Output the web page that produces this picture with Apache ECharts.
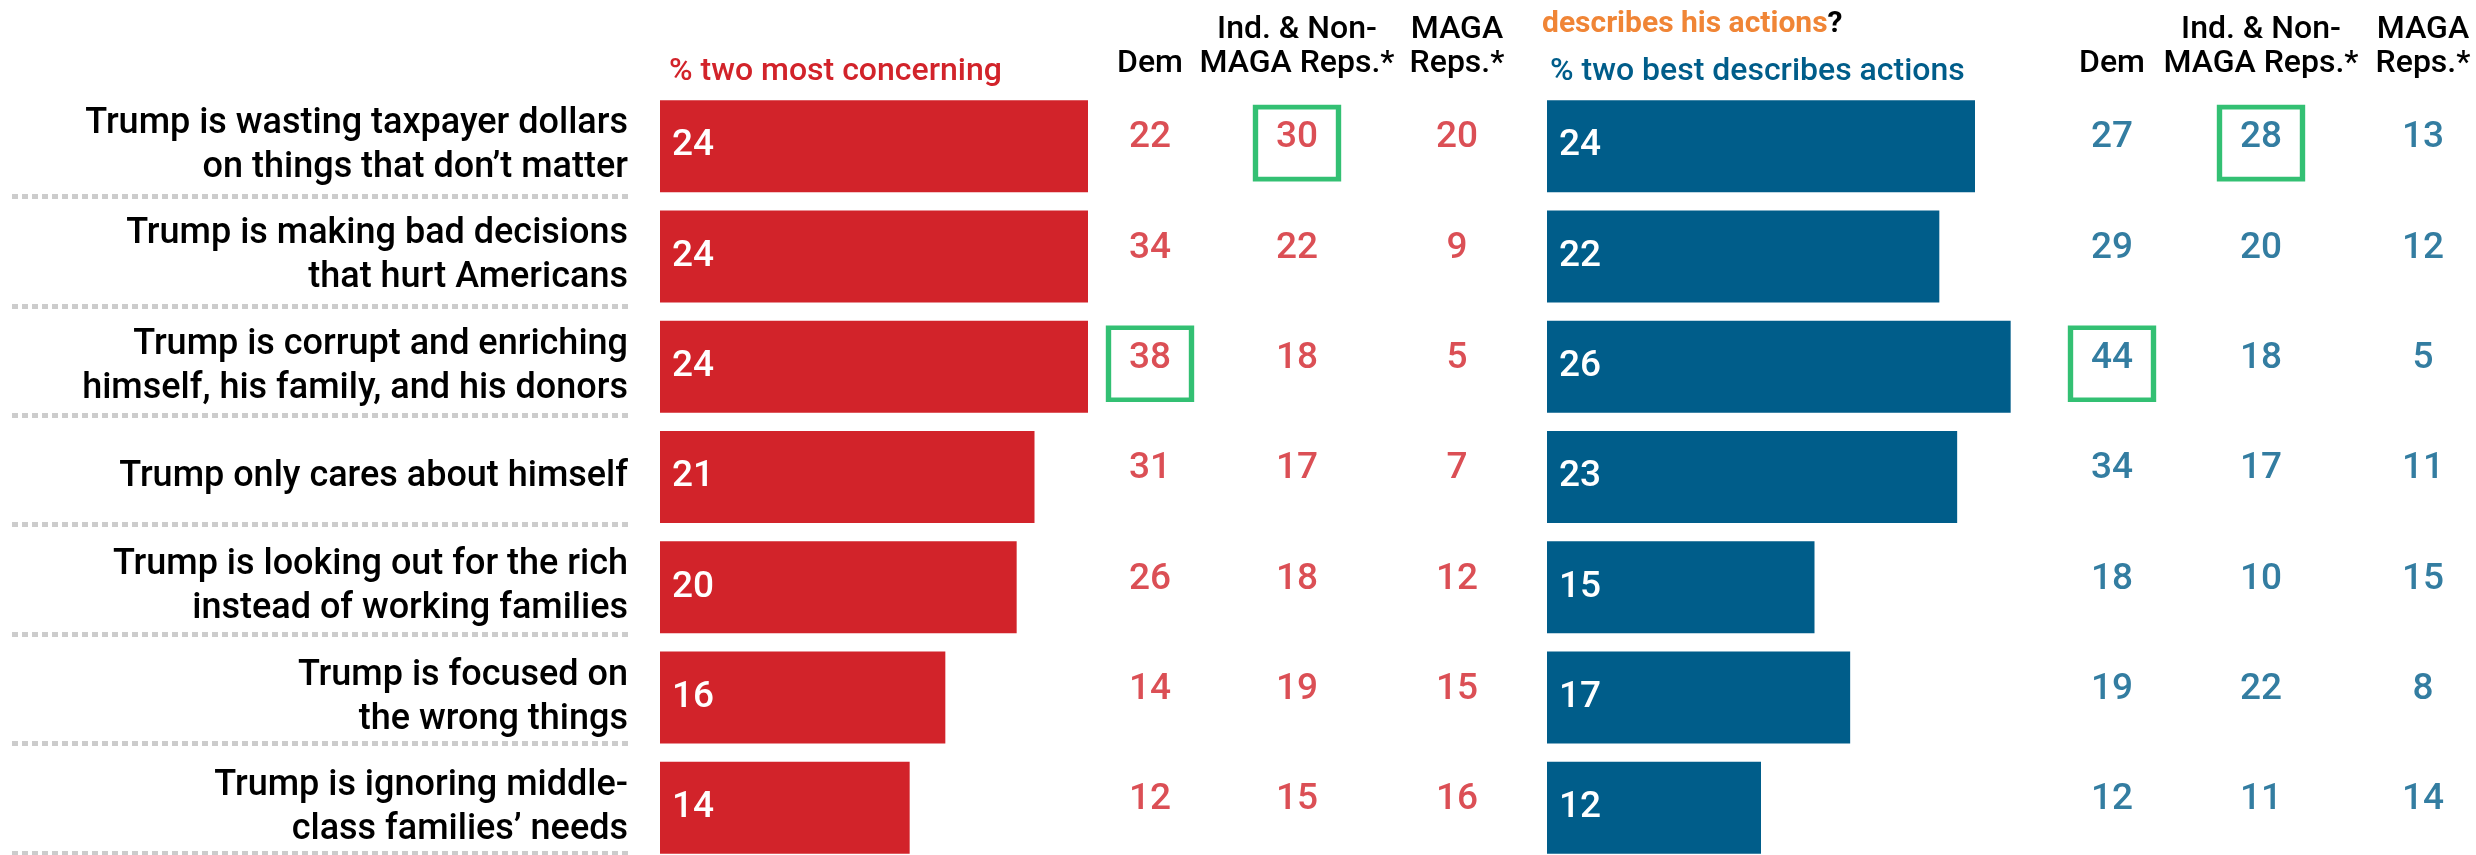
<!DOCTYPE html>
<html>
<head>
<meta charset="utf-8">
<title>Trump concerns</title>
<script src="https://cdn.jsdelivr.net/npm/echarts@6/dist/echarts.min.js"></script>
<style>
  html, body { margin: 0; padding: 0; background: #fff; }
  #chart { width: 2476px; height: 855px; }
</style>
</head>
<body>
<div id="chart"></div>
<script>
// statements, top to bottom
const categories = [
  'Trump is wasting taxpayer dollars\non things that don\u2019t matter',
  'Trump is making bad decisions\nthat hurt Americans',
  'Trump is corrupt and enriching\nhimself, his family, and his donors',
  'Trump only cares about himself',
  'Trump is looking out for the rich\ninstead of working families',
  'Trump is focused on\nthe wrong things',
  'Trump is ignoring middle-\nclass families\u2019 needs'
]

// % two most concerning
const concernTotal = [24, 24, 24, 21, 20, 16, 14]
const concernDem = [22, 34, 38, 31, 26, 14, 12]
const concernInd = [30, 22, 18, 17, 18, 19, 15]
const concernMaga = [20, 9, 5, 7, 12, 15, 16]

// % two best describes actions
const actionsTotal = [24, 22, 26, 23, 15, 17, 12]
const actionsDem = [27, 29, 44, 34, 18, 19, 12]
const actionsInd = [28, 20, 18, 17, 10, 22, 11]
const actionsMaga = [13, 12, 5, 11, 15, 8, 14]

// rows with a green box
const concernDemBox = [2]
const concernIndBox = [0]
const actionsDemBox = [2]
const actionsIndBox = [0]

const headers = ['Dem', 'Ind. & Non-\nMAGA Reps.*', 'MAGA\nReps.*']

const RED = '#d2232a'
const BLUE = '#005d8a'
const GREEN = '#00b050'
const ORANGE = '#f08536'
const FONT = 'Roboto, "Liberation Sans", sans-serif'

const GRID_TOP = 91
const GRID_HEIGHT = 772
const AXIS_MAX = 30
const BAR_AXIS_WIDTH = 535 // 17.83 px per point

const chart = echarts.init(document.getElementById('chart'))

const columns = [
  { header: headers[0], values: concernDem, boxes: concernDemBox, color: RED, center: 1150 },
  { header: headers[1], values: concernInd, boxes: concernIndBox, color: RED, center: 1297 },
  { header: headers[2], values: concernMaga, boxes: [], color: RED, center: 1457 },
  { header: headers[0], values: actionsDem, boxes: actionsDemBox, color: BLUE, center: 2112 },
  { header: headers[1], values: actionsInd, boxes: actionsIndBox, color: BLUE, center: 2261 },
  { header: headers[2], values: actionsMaga, boxes: [], color: BLUE, center: 2423 }
]

function makeGrid(left, width, top, height) {
  // grids run past the bottom edge like the original, so no outer bounds
  return { left: left, width: width, top: top, height: height || GRID_HEIGHT, containLabel: false, outerBoundsMode: 'none' }
}

function hiddenCategoryY(gridIndex) {
  return {
    type: 'category',
    gridIndex: gridIndex,
    inverse: true,
    data: categories,
    show: false
  }
}

function barSeries(axisIndex, values, color) {
  return {
    type: 'bar',
    xAxisIndex: axisIndex,
    yAxisIndex: axisIndex,
    data: values,
    barWidth: 92,
    itemStyle: { color: color },
    label: {
      show: true,
      position: 'insideLeft',
      distance: 12,
      color: '#fff',
      fontFamily: FONT,
      fontSize: 37,
      fontWeight: 500
    },
    silent: true
  }
}

const grid = [
  // separator lines under the statements
  makeGrid(12, 617, 87, 766),
  makeGrid(660, BAR_AXIS_WIDTH, GRID_TOP),
  makeGrid(1547, BAR_AXIS_WIDTH, GRID_TOP)
]
const xAxis = [
  { type: 'value', gridIndex: 0, show: false },
  { type: 'value', gridIndex: 1, min: 0, max: AXIS_MAX, show: false },
  { type: 'value', gridIndex: 2, min: 0, max: AXIS_MAX, show: false }
]
const yAxis = [
  {
    type: 'category',
    gridIndex: 0,
    inverse: true,
    data: categories,
    axisLine: { show: false },
    axisTick: { show: false },
    axisLabel: { show: false },
    splitLine: {
      show: true,
      interval: 0,
      showMinLine: false,
      lineStyle: { color: '#cccccc', width: 5, type: [6, 4] }
    }
  },
  {
    type: 'category',
    gridIndex: 1,
    inverse: true,
    data: categories,
    axisLine: { show: false },
    axisTick: { show: false },
    axisLabel: {
      margin: 32,
      interval: 0,
      color: '#000',
      fontFamily: FONT,
      fontSize: 36,
      fontWeight: 500,
      lineHeight: 44,
      align: 'right'
    }
  },
  hiddenCategoryY(2)
]
const series = [barSeries(1, concernTotal, RED), barSeries(2, actionsTotal, BLUE)]

columns.forEach(function (col) {
  const gi = grid.length
  grid.push(makeGrid(col.center - 40, 80, GRID_TOP))
  xAxis.push({
    type: 'category',
    gridIndex: gi,
    position: 'top',
    data: [col.header],
    axisLine: { show: false },
    axisTick: { show: false },
    axisLabel: {
      margin: 10,
      interval: 0,
      color: '#000',
      fontFamily: FONT,
      fontSize: 32,
      fontWeight: 500,
      lineHeight: 34,
      verticalAlign: 'bottom'
    }
  })
  yAxis.push(hiddenCategoryY(gi))
  series.push({
    type: 'scatter',
    xAxisIndex: gi,
    yAxisIndex: gi,
    silent: true,
    data: col.values.map(function (v, i) {
      const boxed = col.boxes.indexOf(i) >= 0
      return {
        value: [col.header, i, v],
        symbol: 'rect',
        symbolSize: boxed ? [83, 72] : 0,
        symbolOffset: [0, -3],
        itemStyle: { color: 'rgba(0,0,0,0)', borderColor: GREEN, borderWidth: 5 }
      }
    }),
    label: {
      show: true,
      position: 'inside',
      offset: [0, -5],
      formatter: function (p) { return p.value[2] },
      color: col.color,
      fontFamily: FONT,
      fontSize: 37,
      fontWeight: 500
    }
  })
})

chart.setOption({
  animation: false,
  title: [
    {
      text: '% two most concerning',
      left: 664,
      top: 51,
      textStyle: { color: RED, fontFamily: FONT, fontSize: 32, fontWeight: 500 }
    },
    {
      text: '{o|describes his actions}{q|?}',
      left: 1537,
      top: 4,
      textStyle: {
        rich: {
          o: { color: ORANGE, fontFamily: FONT, fontSize: 30, fontWeight: 'bold' },
          q: { color: '#000', fontFamily: FONT, fontSize: 30, fontWeight: 'bold' }
        }
      }
    },
    {
      text: '% two best describes actions',
      left: 1545,
      top: 51,
      textStyle: { color: BLUE, fontFamily: FONT, fontSize: 32, fontWeight: 500 }
    }
  ],
  grid: grid,
  xAxis: xAxis,
  yAxis: yAxis,
  series: series
})
</script>
</body>
</html>
